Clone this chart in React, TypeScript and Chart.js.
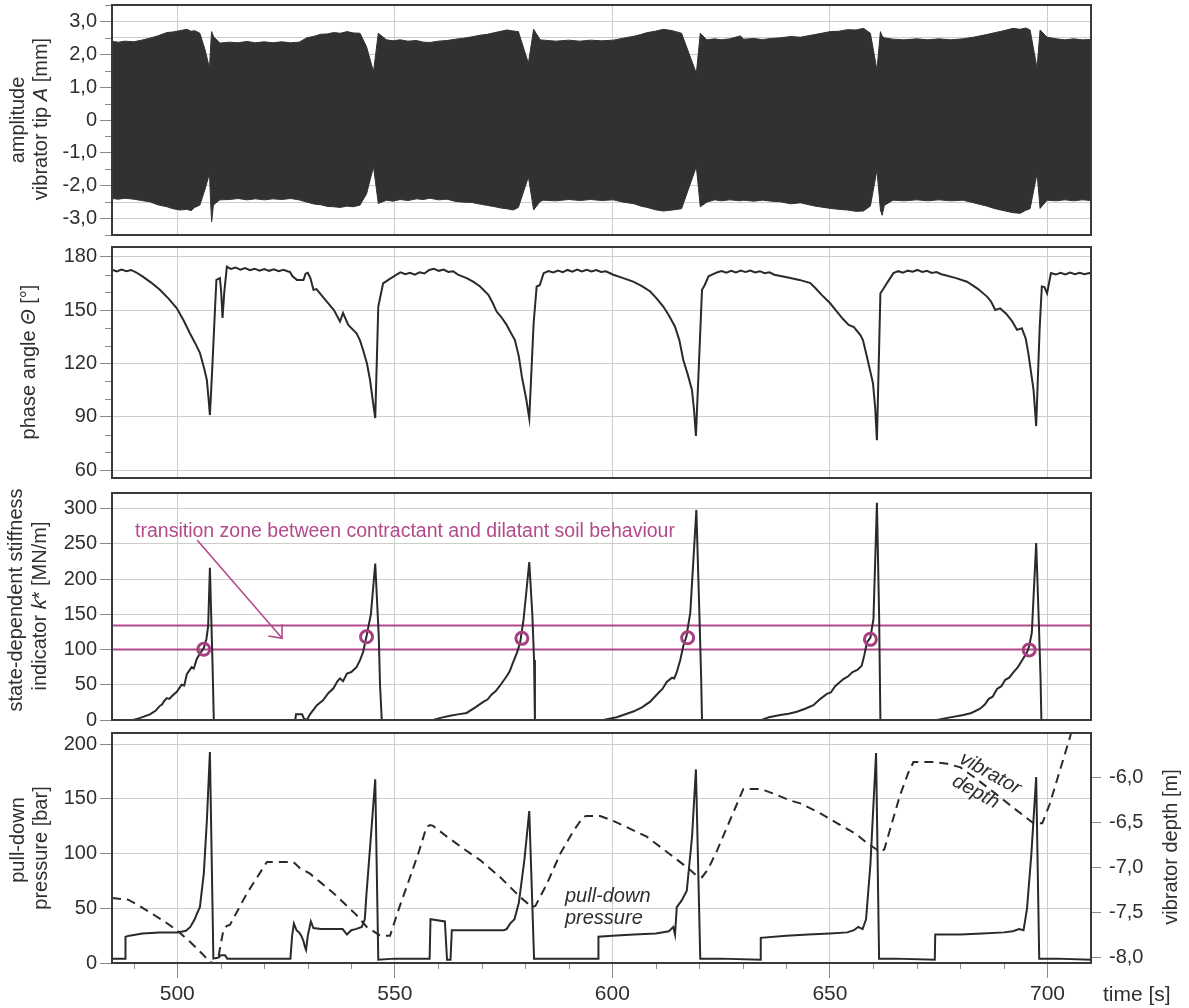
import React, { useEffect, useRef } from 'react';
import { Chart, registerables } from 'chart.js';

Chart.register(...registerables);

// ---------------- data ----------------
// amplitude envelope: [time s, upper mm, lower mm]
const ampSeries: [number, number, number][] = [
  [485, 2.39, -2.39], [486.5, 2.37, -2.41], [488, 2.40, -2.38], [490, 2.38, -2.41], [491.8, 2.43, -2.45],
  [493.7, 2.49, -2.49], [495.5, 2.56, -2.58], [497.6, 2.66, -2.64], [499, 2.68, -2.70], [500.6, 2.72, -2.74],
  [502.2, 2.76, -2.72], [503.2, 2.70, -2.76], [504, 2.72, -2.66], [505.2, 2.64, -2.59], [506.4, 2.13, -2.10],
  [507.4, 1.58, -1.63], [507.7, 2.30, -2.60], [507.9, 2.69, -3.10], [508.3, 2.55, -2.60], [508.7, 2.49, -2.54],
  [509.8, 2.34, -2.43], [512, 2.37, -2.42], [514, 2.35, -2.39], [516, 2.39, -2.43], [518, 2.35, -2.40],
  [520, 2.38, -2.43], [522, 2.35, -2.40], [524, 2.38, -2.42], [526, 2.35, -2.39], [528, 2.37, -2.43],
  [529.8, 2.50, -2.50], [531.5, 2.55, -2.56], [533, 2.61, -2.58], [534.5, 2.62, -2.63], [535.9, 2.66, -2.64],
  [537.5, 2.64, -2.66], [539, 2.69, -2.62], [540.5, 2.65, -2.64], [542, 2.64, -2.59], [543.5, 2.23, -2.25],
  [545.1, 1.47, -1.42], [546.2, 2.64, -2.54], [548.1, 2.44, -2.44], [549.6, 2.41, -2.47], [551.2, 2.44, -2.42],
  [553, 2.40, -2.45], [555, 2.42, -2.40], [556.5, 2.37, -2.42], [558.1, 2.36, -2.38], [560, 2.40, -2.43],
  [562, 2.42, -2.41], [564, 2.46, -2.48], [565.8, 2.49, -2.50], [567.7, 2.53, -2.51], [569.6, 2.58, -2.56],
  [571.3, 2.61, -2.60], [573, 2.66, -2.64], [574.4, 2.70, -2.68], [575.7, 2.74, -2.70], [577.2, 2.71, -2.74],
  [578.4, 2.69, -2.66], [580.7, 1.73, -1.73], [581.9, 2.76, -2.74], [583.4, 2.44, -2.48], [584.2, 2.43, -2.44],
  [587, 2.40, -2.46], [590, 2.43, -2.42], [592.5, 2.40, -2.45], [595, 2.43, -2.42], [597.5, 2.41, -2.45],
  [600.2, 2.43, -2.43], [602.5, 2.49, -2.50], [605, 2.55, -2.55], [606.5, 2.60, -2.62], [608, 2.66, -2.66],
  [609.8, 2.70, -2.73], [611.7, 2.76, -2.77], [613.8, 2.72, -2.74], [615.9, 2.64, -2.70], [619.3, 1.42, -1.42],
  [620.2, 2.64, -2.64], [621.7, 2.44, -2.50], [623.5, 2.47, -2.43], [625, 2.44, -2.46], [627, 2.47, -2.43],
  [629.4, 2.56, -2.46], [630.2, 2.46, -2.44], [632.5, 2.48, -2.47], [634.5, 2.45, -2.44], [636.5, 2.48, -2.47],
  [638.6, 2.50, -2.49], [641, 2.54, -2.55], [643.2, 2.52, -2.52], [646.5, 2.60, -2.62], [650.1, 2.69, -2.69],
  [652, 2.70, -2.72], [654, 2.75, -2.74], [656, 2.74, -2.78], [657.7, 2.79, -2.77], [659.3, 2.64, -2.62],
  [660.8, 1.52, -1.52], [661.6, 2.69, -2.74], [662.0, 2.55, -2.90], [662.5, 2.50, -2.60], [664.5, 2.46, -2.44],
  [667, 2.44, -2.46], [670, 2.47, -2.43], [672.5, 2.44, -2.46], [675, 2.47, -2.43], [677.8, 2.44, -2.46],
  [680.6, 2.47, -2.44], [683, 2.52, -2.52], [686, 2.60, -2.62], [688, 2.66, -2.70], [690, 2.72, -2.76],
  [692.1, 2.79, -2.82], [693.7, 2.76, -2.84], [695, 2.80, -2.75], [696, 2.74, -2.70], [697.6, 1.58, -1.63],
  [698.3, 2.74, -2.69], [699.9, 2.52, -2.44], [702, 2.47, -2.46], [704, 2.44, -2.43], [706, 2.47, -2.46],
  [708, 2.44, -2.43], [710, 2.45, -2.45],
];

// phase angle: [time s, degrees]
const phaseSeries: [number, number][] = [
  [485, 172.7], [486.1, 171.8], [487.2, 172.8], [488.3, 171.9], [489.4, 172.6], [490.5, 171.3], [492, 169.0],
  [494, 165.5], [496, 161.4], [498, 156.5], [499.9, 151.0], [501.5, 144.0], [502.9, 137.0], [504.2, 131.0],
  [505.2, 126.0], [506.2, 117.0], [506.8, 110.7], [507.2, 100.0], [507.5, 91.0], [508.0, 115.0], [508.7, 152.0],
  [509.0, 167.0], [509.8, 168.0], [510.1, 160.0], [510.4, 145.6], [510.8, 160.0], [511.4, 174.5], [512.3, 173.2],
  [513.4, 174.0], [514.5, 172.8], [515.6, 173.6], [516.7, 172.5], [517.8, 173.3], [518.9, 172.2], [520, 173.1],
  [521.1, 172.1], [522.2, 172.9], [523.3, 171.9], [524.4, 172.7], [525.5, 171.7], [525.9, 171.5], [526.5, 169.0],
  [527.5, 167.0], [529, 167.0], [529.5, 170.5], [530, 171.0], [530.6, 168.0], [531.3, 161.4], [532, 161.8],
  [533.6, 157.0], [535, 153.0], [536, 150.0], [537.4, 143.6], [538.1, 148.4], [539.3, 141.7], [541.2, 137.0],
  [542, 133.0], [542.7, 127.6], [543.6, 120.0], [544.3, 110.7], [545, 98.0], [545.5, 89.3], [546.2, 152.0],
  [547.3, 165.0], [548.5, 167.0], [550.4, 170.0], [551.3, 171.2], [552.4, 170.2], [553.5, 171.0], [554.6, 169.9],
  [555.7, 171.3], [556.8, 170.6], [557.9, 172.6], [559, 173.2], [560.1, 172.1], [561.2, 172.8], [562.3, 171.5],
  [563.4, 171.9], [564.5, 170.0], [566.5, 168.0], [568, 166.0], [569.6, 163.3], [571.5, 158.6], [572.5, 154.0],
  [573.4, 149.2], [574.5, 146.0], [575.7, 141.7], [576.5, 138.0], [577.6, 133.2], [578.5, 124.0], [579.2, 112.6],
  [580.2, 100.0], [580.9, 89.1], [581.9, 142.6], [582.6, 163.3], [583.3, 164.0], [584.2, 170.8], [585.3, 172.0],
  [586.4, 171.2], [587.5, 172.3], [588.6, 171.4], [589.7, 172.6], [590.8, 171.6], [591.9, 172.8], [593, 171.8],
  [594.1, 172.7], [595.2, 171.7], [596.3, 172.5], [597.4, 171.5], [598.5, 171.8], [599.6, 170.6], [600.2, 169.9],
  [602.5, 168.0], [604.8, 166.0], [606.8, 163.5], [608.7, 160.5], [610.2, 156.5], [611.7, 152.0], [613, 147.0],
  [614.4, 140.7], [615.4, 133.0], [616.3, 122.0], [617.3, 114.0], [618.3, 105.0], [618.8, 93.0], [619.2, 79.2],
  [620.6, 161.4], [621.2, 164.0], [622.1, 169.0], [624, 171.2], [625.1, 172.0], [626.2, 171.1], [627.3, 172.1],
  [628.4, 171.2], [629.5, 172.3], [630.6, 171.4], [631.7, 172.2], [632.8, 171.2], [633.9, 171.9], [635, 170.8],
  [636.1, 171.3], [637.2, 169.9], [640.1, 168.5], [643, 167.0], [645.5, 165.2], [646.8, 162.0], [648.1, 158.6],
  [650, 154.0], [651.6, 149.2], [653, 145.0], [654.3, 141.7], [655.5, 140.5], [657, 136.0], [657.6, 133.0],
  [658.5, 123.8], [659.9, 108.8], [660.4, 95.0], [660.8, 76.9], [661.6, 159.5], [662.3, 162.0], [663.1, 165.2],
  [664.6, 170.8], [665.7, 171.9], [666.8, 171.0], [667.9, 172.2], [669, 171.6], [670.1, 172.6], [671.2, 171.5],
  [672.3, 172.1], [673.4, 170.9], [674.5, 171.4], [675.6, 170.2], [676.1, 169.9], [679, 168.0], [681.5, 166.0],
  [684, 162.0], [686.1, 157.6], [687, 155.0], [688, 150.1], [689.1, 151.0], [690.5, 148.0], [691.8, 144.0],
  [693, 138.9], [694.1, 139.8], [695, 134.0], [695.6, 125.7], [696.8, 105.0], [697.4, 84.8], [698.2, 140.0],
  [698.7, 163.3], [699.3, 163.0], [699.9, 159.5], [700.8, 170.8], [701.9, 170.0], [703, 171.0], [704.1, 170.1],
  [705.2, 171.1], [706.3, 170.2], [707.4, 171.0], [708.5, 170.2], [709.6, 170.9], [710, 170.5],
];

// stiffness indicator k*: [time s, MN/m]
const stiffSeries: [number, number][] = [
  [485, 0], [489.9, 0], [491.5, 3], [493.7, 8], [495, 13], [496, 20], [496.5, 22], [497, 27], [497.6, 31],
  [498.2, 30], [498.8, 34], [499.9, 40], [501, 50], [501.6, 49], [502.2, 65], [503.3, 75], [503.8, 73],
  [504.5, 87], [505.3, 95], [506.1, 102], [506.7, 115], [507.1, 133], [507.5, 216], [508.1, 80], [508.4, 0],
  [527.1, 0], [527.3, 8], [528.7, 8], [529.1, 2], [529.8, 0], [530.5, 8], [532.1, 21], [533.5, 28], [534.7, 38],
  [535.9, 45], [536.8, 55], [537.4, 59], [538.1, 55], [539, 66], [540, 68], [541.2, 75], [542, 85], [542.7, 96],
  [543.5, 119], [544.5, 150], [545.5, 222], [546.3, 120], [546.6, 50], [547, 0], [558.8, 0], [560.5, 3],
  [562.7, 6], [564.5, 8], [566.5, 10], [568.5, 18], [570.4, 26], [571.3, 29], [572.2, 36], [573.2, 41],
  [574.2, 49], [575.7, 62], [576.4, 69], [577.2, 82], [578.1, 96], [578.8, 110], [579.6, 143], [580.9, 224],
  [581.6, 150], [582.0, 85], [582.2, 0], [597.9, 0], [601, 4], [604.8, 12], [606.8, 18], [608.7, 26],
  [610.5, 38], [611.5, 44], [612.5, 54], [613.7, 60], [614.2, 59], [614.8, 68], [615.6, 85], [616.3, 105],
  [617.0, 118], [617.9, 152], [619.3, 298], [620.0, 150], [620.4, 60], [620.6, 0], [634.3, 0], [636, 4],
  [638.6, 7], [640.5, 9], [642.4, 11.7], [644.3, 16], [646.2, 21], [647.8, 30], [649.3, 37], [650.2, 39],
  [651.2, 48], [653.1, 58], [654.2, 62], [655.2, 68], [656.3, 71], [657.3, 77], [657.9, 92], [658.5, 110],
  [659.3, 117], [660.0, 143], [660.8, 308], [661.3, 150], [661.6, 0], [674.6, 0], [677, 3], [680.7, 7],
  [682.5, 10], [684.5, 16], [685.6, 22], [686.5, 30], [687.4, 33], [688.4, 44], [689.4, 48], [690.3, 57],
  [691.2, 60], [692.2, 68], [693.2, 75], [694.2, 85], [695.3, 96], [695.8, 105], [696.4, 124], [697.4, 251],
  [698.0, 140], [698.4, 60], [698.6, 0], [710, 0],
];

// transition zone bounds (MN/m) and marked crossing points [time s, MN/m]
const transitionBounds = [100, 134];
const transitionPoints: [number, number][] = [
  [506.1, 100.3], [543.5, 118], [579.2, 115.8], [617.3, 116.6], [659.3, 114.4], [695.8, 99.4],
];

// pull-down pressure: [time s, bar]
const pressureSeries: [number, number][] = [
  [485, 4], [488, 4], [488.1, 24], [489, 25], [492, 27], [496, 28], [500, 28], [502, 29.5], [503, 33], [504, 40],
  [504.5, 45], [505.2, 51], [506.1, 82], [506.8, 130], [507.5, 193], [508.3, 4], [509.5, 5], [510, 7], [511, 7],
  [511.5, 4], [520, 4], [526, 4], [526.4, 25], [526.8, 36], [527.4, 30], [528, 28], [528.5, 25], [529, 20],
  [529.4, 14], [529.6, 12], [530, 25], [530.7, 38], [531.3, 32], [533, 31], [536, 31], [538, 31], [539, 26],
  [540, 30], [541, 31], [542.4, 33], [543.1, 40], [543.5, 64], [544.2, 100], [545.5, 168], [546.2, 3], [550, 4],
  [558, 4], [558.2, 40], [561.5, 38], [562, 3], [562.8, 3], [563.1, 30], [566, 30], [570, 30], [575, 30],
  [575.7, 31], [576.5, 36], [577.5, 40], [578.5, 55], [579.8, 95], [580.9, 139], [582, 4], [590, 4], [596.7, 4],
  [596.8, 24], [600, 25], [605, 26], [610, 27], [613, 29], [614, 33], [614.4, 26], [614.8, 51], [615.9, 57],
  [617.1, 66], [618.3, 115], [619.2, 177], [620.2, 4], [625, 4], [634, 3], [634.1, 23], [640, 25], [645, 26],
  [650, 27], [654, 28], [655.5, 30], [656.5, 33], [657.5, 31], [658.3, 40], [659.3, 90], [660.6, 192], [661.3, 4],
  [665, 4], [674.1, 3], [674.2, 26], [680, 26], [685, 27], [690, 28], [692, 29], [693.5, 31], [694.5, 30],
  [695.3, 50], [696.3, 100], [697.4, 170], [698.1, 4], [702, 4], [710, 3],
];

// vibrator depth: [time s, m]
const depthSeries: [number, number][] = [
  [485, -7.34], [488.7, -7.36], [491, -7.42], [493.7, -7.50], [497, -7.60], [499.9, -7.70], [503, -7.83],
  [505.5, -7.95], [507.5, -8.05], [508.5, -8.07], [509.2, -8.07], [510.0, -7.85], [510.6, -7.70], [511.4, -7.65],
  [512.1, -7.64], [516, -7.29], [520.6, -6.94], [524, -6.94], [526.7, -6.94], [528.2, -7.01], [530.5, -7.07],
  [533, -7.17], [536, -7.29], [539, -7.43], [541, -7.52], [543.5, -7.66], [546.6, -7.76], [548.9, -7.76],
  [551, -7.45], [553.5, -7.11], [555.5, -6.83], [557.3, -6.55], [558.1, -6.53], [558.8, -6.54], [562, -6.66],
  [566, -6.80], [569.6, -6.92], [574, -7.10], [578.8, -7.33], [581.5, -7.44], [582.3, -7.43], [585, -7.18],
  [588, -6.85], [591, -6.60], [593.3, -6.44], [594, -6.43], [597.2, -6.43], [600, -6.48], [604, -6.57],
  [607.9, -6.66], [612, -6.81], [615, -6.92], [617.9, -7.03], [619.3, -7.09], [620.6, -7.11], [622, -7.02],
  [624, -6.82], [627, -6.48], [630.1, -6.13], [632, -6.13], [634, -6.13], [637, -6.18], [641, -6.26],
  [643.2, -6.29], [647.8, -6.40], [652, -6.52], [656, -6.63], [658.5, -6.73], [661.6, -6.83], [662.5, -6.80],
  [664, -6.55], [666.1, -6.20], [668, -5.95], [669.2, -5.83], [673.8, -5.83], [677, -5.85], [680, -5.89],
  [684, -6.03], [688, -6.18], [693, -6.37], [696.8, -6.51], [698.8, -6.51], [700.5, -6.30], [703, -5.90],
  [705.2, -5.55], [705.7, -5.45],
];

// axis ranges / tick steps
const X_RANGE = [485, 710];
const X_STEP = 50;
const X_MINOR = [490, 510, 520, 530, 540, 560, 570, 580, 590, 610, 620, 630, 640, 660, 670, 680, 690];
const AMP_RANGE = [-3.5, 3.5];
const PHASE_RANGE = [55.6, 185.5];
const STIFF_RANGE = [0, 322];
const PRESS_RANGE = [0, 210.3];
const DEPTH_RANGE = [-8.063, -5.508];

// ---------------- style ----------------
const W = 1189;
const PLOT_LEFT = 112;
const RIGHT_W = 98;
const FONT = '"Liberation Sans", Arial, Helvetica, sans-serif';
const INK = '#2f2f2f';
const LINE = '#2a2a2a';
const FRAME = '#3a3a3a';
const GRID = '#cdcdcd';
const TICK = '#8a8a8a';
const MAGENTA = '#b24a8b';
const CIRCLE = '#a63f80';
const FILL = '#313131';
const CLEAR = 'rgba(0,0,0,0)';

type Panel = { top: number; height: number; plotTop: number; plotBottom: number };
const P1: Panel = { top: 0, height: 241, plotTop: 5, plotBottom: 235 };
const P2: Panel = { top: 241, height: 243, plotTop: 247, plotBottom: 478 };
const P3: Panel = { top: 484, height: 245, plotTop: 490, plotBottom: 720 };
const P4: Panel = { top: 729, height: 279, plotTop: 733, plotBottom: 963 };

const pts = (s: number[][], k = 1) => s.map((r) => ({ x: r[0], y: r[k] }));
const comma = (v: number) => (Math.abs(v) < 1e-9 ? '0' : v.toFixed(1).replace('.', ','));
const near = (v: number, step: number) => Math.abs(v / step - Math.round(v / step)) < 1e-6;

type Run = { t: string; i?: boolean };

function drawRuns(ctx: any, runs: Run[], x: number, y: number, rot: number, size: number, color: string, align: string, baseline: string) {
  ctx.save();
  ctx.translate(x, y);
  ctx.rotate((rot * Math.PI) / 180);
  ctx.fillStyle = color;
  ctx.textBaseline = baseline;
  ctx.textAlign = 'left';
  const fonts = runs.map((r) => `${r.i ? 'italic ' : ''}${size}px ${FONT}`);
  let total = 0;
  const widths = runs.map((r, k) => {
    ctx.font = fonts[k];
    const w = ctx.measureText(r.t).width;
    total += w;
    return w;
  });
  let cx = align === 'center' ? -total / 2 : 0;
  runs.forEach((r, k) => {
    ctx.font = fonts[k];
    ctx.fillText(r.t, cx, 0);
    cx += widths[k];
  });
  ctx.restore();
}

function makeDecor(panel: Panel, spec: any) {
  return {
    id: 'decor',
    afterDraw(chart: any) {
      const ctx = chart.ctx;
      const a = chart.chartArea;
      ctx.save();
      ctx.lineWidth = 1;
      ctx.strokeStyle = TICK;
      (spec.minor || []).forEach((m: any) => {
        const s = chart.scales[m.scale];
        m.values.forEach((v: number) => {
          const p = Math.round(s.getPixelForValue(v)) + 0.5;
          ctx.beginPath();
          if (s.isHorizontal()) {
            ctx.moveTo(p, a.bottom);
            ctx.lineTo(p, a.bottom + m.len);
          } else {
            ctx.moveTo(a.left - m.len, p);
            ctx.lineTo(a.left, p);
          }
          ctx.stroke();
        });
      });
      if (spec.arrow) {
        const ar = spec.arrow;
        const sx = chart.scales.x;
        const sy = chart.scales.y;
        const x1 = sx.getPixelForValue(ar.from[0]);
        const y1 = sy.getPixelForValue(ar.from[1]);
        const x2 = sx.getPixelForValue(ar.to[0]);
        const y2 = sy.getPixelForValue(ar.to[1]);
        ctx.strokeStyle = MAGENTA;
        ctx.lineWidth = 1.6;
        ctx.beginPath();
        ctx.moveTo(x1, y1);
        ctx.lineTo(x2, y2);
        ctx.stroke();
        const ang = Math.atan2(y2 - y1, x2 - x1);
        const L = 14;
        const sp = 0.7;
        ctx.beginPath();
        ctx.moveTo(x2 - L * Math.cos(ang - sp), y2 - L * Math.sin(ang - sp));
        ctx.lineTo(x2, y2);
        ctx.lineTo(x2 - L * Math.cos(ang + sp), y2 - L * Math.sin(ang + sp));
        ctx.stroke();
      }
      (spec.notes || []).forEach((n: any) => {
        const x = chart.scales.x.getPixelForValue(n.x);
        const y = chart.scales[n.axis || 'y'].getPixelForValue(n.y);
        drawRuns(ctx, n.runs, x, y, n.rot || 0, n.size || 20, n.color || INK, n.align || 'left', n.baseline || 'alphabetic');
      });
      (spec.titles || []).forEach((t: any) => {
        drawRuns(ctx, t.runs, t.x, t.y - panel.top, t.rot === undefined ? -90 : t.rot, t.size || 20, INK, t.align || 'center', t.baseline || 'middle');
      });
      ctx.strokeStyle = FRAME;
      ctx.lineWidth = 2;
      ctx.strokeRect(a.left, a.top, a.right - a.left, a.bottom - a.top);
      ctx.restore();
    },
  };
}

function xAxis(bottomH: number, labels: boolean) {
  return {
    type: 'linear',
    position: 'bottom',
    min: X_RANGE[0],
    max: X_RANGE[1],
    afterFit: (s: any) => {
      s.height = bottomH;
      s.paddingLeft = 0;
      s.paddingRight = 0;
    },
    border: { display: false },
    grid: { color: GRID, lineWidth: 1, drawTicks: labels, tickLength: 15, tickColor: TICK },
    ticks: {
      display: labels,
      stepSize: X_STEP,
      includeBounds: false,
      autoSkip: false,
      maxTicksLimit: 100,
      maxRotation: 0,
      minRotation: 0,
      padding: 4,
      color: INK,
      font: { family: FONT, size: 21 },
    },
  };
}

function yAxis(o: any) {
  const position = o.position || 'left';
  return {
    type: 'linear',
    position,
    min: o.range[0],
    max: o.range[1],
    afterFit: (s: any) => {
      s.width = o.width || PLOT_LEFT;
      s.paddingTop = 0;
      s.paddingBottom = 0;
    },
    border: { display: false },
    grid: {
      drawOnChartArea: o.gridOn !== false,
      color: (c: any) => (c.tick && o.gridAt(c.tick.value) ? GRID : CLEAR),
      tickColor: (c: any) => (c.tick && o.major(c.tick.value) ? TICK : CLEAR),
      tickLength: o.tickLength || 12,
      lineWidth: 1,
    },
    ticks: {
      stepSize: o.step,
      includeBounds: false,
      autoSkip: false,
      maxTicksLimit: 100,
      padding: o.padding === undefined ? 3 : o.padding,
      color: INK,
      font: { family: FONT, size: 20 },
      callback: (v: number) => (o.major(v) ? o.fmt(v) : ''),
    },
  };
}

function baseConfig(panel: Panel, datasets: any[], scales: any, decor: any, rightPad: number) {
  return {
    type: 'line',
    data: { datasets },
    options: {
      responsive: false,
      maintainAspectRatio: false,
      animation: false,
      devicePixelRatio: 1,
      events: [],
      layout: { padding: { top: panel.plotTop - panel.top, left: 0, right: rightPad, bottom: 0 } },
      elements: { line: { tension: 0 }, point: { radius: 0 } },
      scales,
      plugins: { legend: { display: false }, tooltip: { enabled: false } },
    },
    plugins: [makeDecor(panel, decor)],
  };
}

const bottomOf = (p: Panel) => p.top + p.height - p.plotBottom;

function buildAmp() {
  const datasets = [
    { data: pts(ampSeries, 1), borderColor: FILL, borderWidth: 1, pointRadius: 0, fill: false },
    { data: pts(ampSeries, 2), borderColor: FILL, borderWidth: 1, pointRadius: 0, fill: '-1', backgroundColor: FILL },
  ];
  const scales = {
    x: xAxis(bottomOf(P1), false),
    y: yAxis({ range: AMP_RANGE, step: 0.5, major: (v: number) => near(v, 1), gridAt: () => true, fmt: comma }),
  };
  const decor = {
    minor: [{ scale: 'y', values: [-3.5, -2.5, -1.5, -0.5, 0.5, 1.5, 2.5, 3.5], len: 7 }],
    titles: [
      { x: 18, y: 120, runs: [{ t: 'amplitude' }] },
      { x: 41, y: 119, runs: [{ t: 'vibrator tip ' }, { t: 'A', i: true }, { t: ' [mm]' }] },
    ],
  };
  return baseConfig(P1, datasets, scales, decor, W - 1091);
}

function buildPhase() {
  const datasets = [{ data: pts(phaseSeries), borderColor: LINE, borderWidth: 2, pointRadius: 0, fill: false }];
  const scales = {
    x: xAxis(bottomOf(P2), false),
    y: yAxis({ range: PHASE_RANGE, step: 30, major: (v: number) => near(v, 30), gridAt: (v: number) => near(v, 30), fmt: (v: number) => String(Math.round(v)) }),
  };
  const decor = {
    minor: [{ scale: 'y', values: [70, 80, 100, 110, 130, 140, 160, 170], len: 7 }],
    titles: [{ x: 29, y: 362, runs: [{ t: 'phase angle ' }, { t: 'Θ', i: true }, { t: ' [°]' }] }],
  };
  return baseConfig(P2, datasets, scales, decor, W - 1091);
}

function buildStiff() {
  const line = (v: number) => [
    { x: X_RANGE[0], y: v },
    { x: X_RANGE[1], y: v },
  ];
  const datasets = [
    {
      data: transitionPoints.map(([x, y]) => ({ x, y })),
      showLine: false,
      pointRadius: 6,
      pointBorderWidth: 3,
      pointBorderColor: CIRCLE,
      pointBackgroundColor: CLEAR,
      borderColor: CIRCLE,
    },
    { data: pts(stiffSeries), borderColor: LINE, borderWidth: 2, pointRadius: 0, fill: false },
    { data: line(transitionBounds[0]), borderColor: MAGENTA, borderWidth: 2, pointRadius: 0, fill: false },
    { data: line(transitionBounds[1]), borderColor: MAGENTA, borderWidth: 2, pointRadius: 0, fill: false },
  ];
  const scales = {
    x: xAxis(bottomOf(P3), false),
    y: yAxis({ range: STIFF_RANGE, step: 50, major: () => true, gridAt: () => true, fmt: (v: number) => String(Math.round(v)) }),
  };
  const decor = {
    arrow: { from: [504.6, 255], to: [524.1, 116] },
    notes: [
      {
        x: 490.3,
        y: 260,
        size: 19.5,
        color: MAGENTA,
        runs: [{ t: 'transition zone between contractant and dilatant soil behaviour' }],
      },
    ],
    titles: [
      { x: 16, y: 600, runs: [{ t: 'state-dependent stiffness' }] },
      { x: 40, y: 606, runs: [{ t: 'indicator ' }, { t: 'k', i: true }, { t: '* [MN/m]' }] },
    ],
  };
  return baseConfig(P3, datasets, scales, decor, W - 1091);
}

function buildPressure() {
  const datasets = [
    { data: pts(pressureSeries), borderColor: LINE, borderWidth: 2, pointRadius: 0, fill: false, yAxisID: 'y' },
    {
      data: pts(depthSeries),
      borderColor: LINE,
      borderWidth: 2,
      borderDash: [9, 6],
      pointRadius: 0,
      fill: false,
      yAxisID: 'yR',
      clip: 0,
    },
  ];
  const scales = {
    x: xAxis(bottomOf(P4), true),
    y: yAxis({ range: PRESS_RANGE, step: 50, major: () => true, gridAt: () => true, fmt: (v: number) => String(Math.round(v)) }),
    yR: yAxis({
      range: DEPTH_RANGE,
      step: 0.5,
      position: 'right',
      width: RIGHT_W,
      tickLength: 10,
      padding: 8,
      gridOn: false,
      major: () => true,
      gridAt: () => false,
      fmt: comma,
    }),
  };
  const decor = {
    minor: [{ scale: 'x', values: X_MINOR, len: 6 }],
    notes: [
      { x: 589.1, y: 55.8, size: 20, runs: [{ t: 'pull-down', i: true }] },
      { x: 589.1, y: 36.0, size: 20, runs: [{ t: 'pressure', i: true }] },
      { x: 686.8, y: 173.2, size: 20, rot: 29, align: 'center', baseline: 'middle', runs: [{ t: 'vibrator', i: true }] },
      { x: 683.5, y: 156.4, size: 20, rot: 29, align: 'center', baseline: 'middle', runs: [{ t: 'depth', i: true }] },
    ],
    titles: [
      { x: 18, y: 840, runs: [{ t: 'pull-down' }] },
      { x: 41, y: 848, runs: [{ t: 'pressure [bar]' }] },
      { x: 1171, y: 847, runs: [{ t: 'vibrator depth [m]' }] },
      { x: 1103, y: 995, rot: 0, align: 'left', size: 21, runs: [{ t: 'time [s]' }] },
    ],
  };
  return baseConfig(P4, datasets, scales, decor, 0);
}

function PanelCanvas({ panel, build }: { panel: Panel; build: () => any }) {
  const ref = useRef<HTMLCanvasElement | null>(null);
  useEffect(() => {
    if (!ref.current) return;
    const chart = new Chart(ref.current, build() as any);
    return () => chart.destroy();
  }, []);
  return (
    <canvas
      ref={ref}
      width={W}
      height={panel.height}
      style={{ position: 'absolute', left: 0, top: panel.top, width: W, height: panel.height, display: 'block' }}
    />
  );
}

export default function App() {
  return (
    <div style={{ position: 'absolute', left: 0, top: 0, width: W, height: 1008, background: '#ffffff' }}>
      <PanelCanvas panel={P1} build={buildAmp} />
      <PanelCanvas panel={P2} build={buildPhase} />
      <PanelCanvas panel={P3} build={buildStiff} />
      <PanelCanvas panel={P4} build={buildPressure} />
    </div>
  );
}
